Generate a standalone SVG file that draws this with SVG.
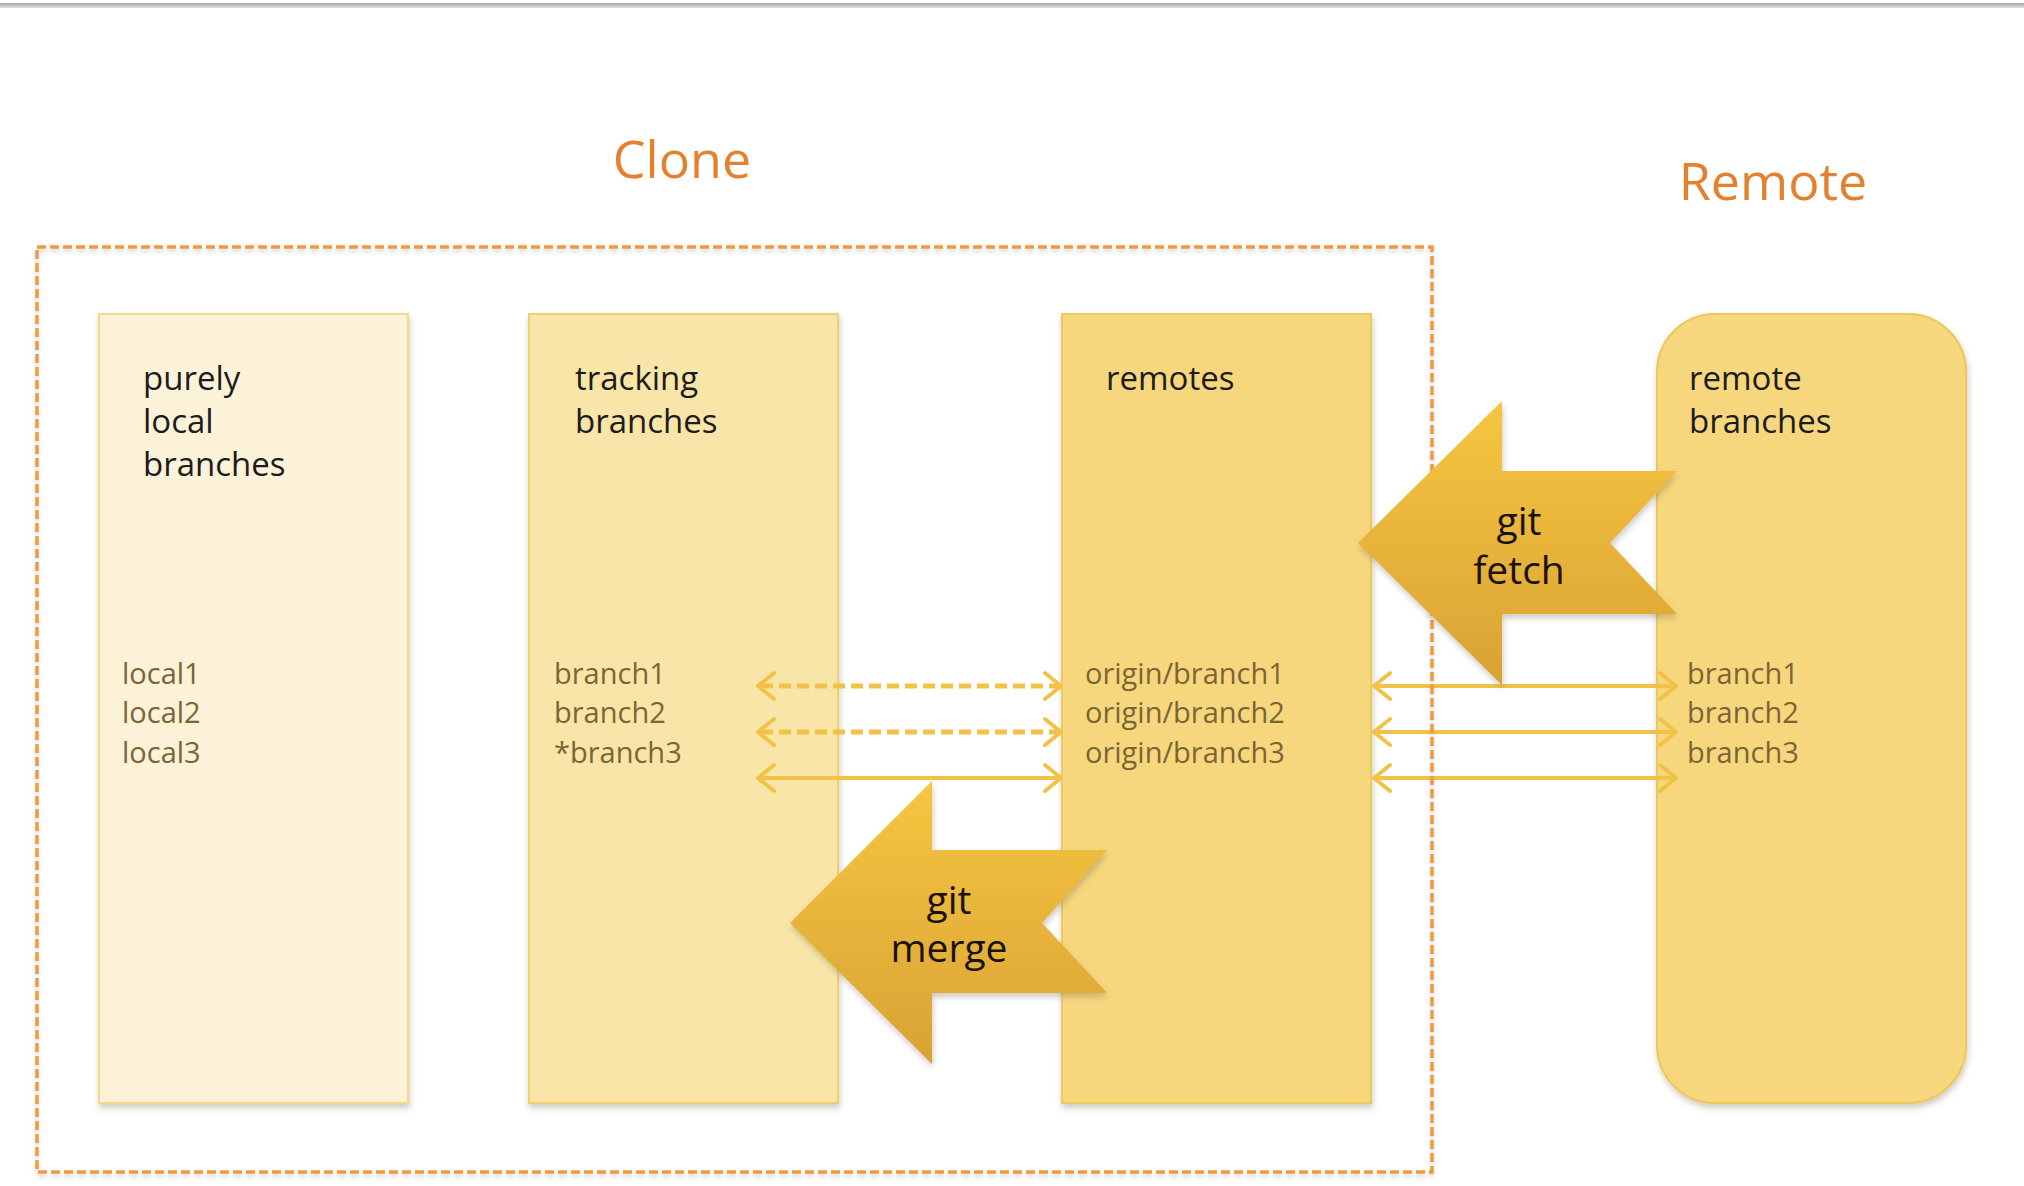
<svg xmlns="http://www.w3.org/2000/svg" width="2024" height="1186" viewBox="0 0 2024 1186">
  <defs>
    <style>
      .title { font-family: "Open Sans", "Liberation Sans", sans-serif; font-size: 52px; fill: #E3812E; }
      .label { font-family: "Open Sans", "Liberation Sans", sans-serif; font-size: 33px; fill: #1C1C1C; }
      .item { font-family: "Open Sans", "Liberation Sans", sans-serif; font-size: 29px; fill: #7A6535; }
      .cmd { font-family: "Open Sans", "Liberation Sans", sans-serif; font-size: 39px; fill: #1A1208; text-anchor: middle; }
      .conn { fill: none; stroke: #F2C247; stroke-width: 4; stroke-linecap: round; stroke-linejoin: round; }
      .dash { stroke-dasharray: 12 6; stroke-linecap: butt; stroke-width: 5; }
      .frame { fill: none; stroke: #EF9A3A; stroke-width: 3.5; stroke-dasharray: 9 4; }
    </style>
    <filter id="shadow" x="-10%" y="-10%" width="120%" height="120%">
      <feDropShadow dx="1" dy="4" stdDeviation="3" flood-color="#7a6a50" flood-opacity="0.35"/>
    </filter>
    <filter id="shadowSoft" x="-5%" y="-5%" width="110%" height="110%">
      <feDropShadow dx="0" dy="3" stdDeviation="2" flood-color="#999999" flood-opacity="0.4"/>
    </filter>
    <linearGradient id="gold" x1="0" y1="0" x2="0" y2="1">
      <stop offset="0" stop-color="#F6C640"/>
      <stop offset="1" stop-color="#D9A235"/>
    </linearGradient>
    <linearGradient id="topline" x1="0" y1="0" x2="0" y2="1">
      <stop offset="0" stop-color="#A8A8A8"/>
      <stop offset="1" stop-color="#E0E0E0"/>
    </linearGradient>
  </defs>

  <rect x="0" y="0" width="2024" height="1186" fill="#FFFFFF"/>
  <rect x="0" y="3" width="2024" height="5" fill="url(#topline)"/>

  <text class="title" x="682" y="178" text-anchor="middle">Clone</text>
  <text class="title" x="1773" y="200" text-anchor="middle">Remote</text>

  <g id="local-branches" filter="url(#shadow)">
    <rect x="99" y="314" width="309" height="789" fill="#FCF2D7" stroke="#F5D88C" stroke-width="2"/>
  </g>
  <g id="local-branches-text">
    <text class="label" x="143" y="390">purely</text>
    <text class="label" x="143" y="433">local</text>
    <text class="label" x="143" y="476">branches</text>
    <text class="item" x="122" y="684">local1</text>
    <text class="item" x="122" y="723">local2</text>
    <text class="item" x="122" y="763">local3</text>
  </g>

  <g id="tracking-branches" filter="url(#shadow)">
    <rect x="529" y="314" width="309" height="789" fill="#FAE5A8" stroke="#F2CF6E" stroke-width="2"/>
  </g>
  <g id="tracking-branches-text">
    <text class="label" x="575" y="390">tracking</text>
    <text class="label" x="575" y="433">branches</text>
    <text class="item" x="554" y="684">branch1</text>
    <text class="item" x="554" y="723">branch2</text>
    <text class="item" x="554" y="763">*branch3</text>
  </g>

  <g id="remotes" filter="url(#shadow)">
    <rect x="1062" y="314" width="309" height="789" fill="#F7D77D" stroke="#F0CA5E" stroke-width="2"/>
  </g>
  <g id="remotes-text">
    <text class="label" x="1106" y="390">remotes</text>
    <text class="item" x="1085" y="684">origin/branch1</text>
    <text class="item" x="1085" y="723">origin/branch2</text>
    <text class="item" x="1085" y="763">origin/branch3</text>
  </g>

  <g id="remote-branches" filter="url(#shadow)">
    <rect x="1657" y="314" width="309" height="789" rx="58" ry="58" fill="#F7D77D" stroke="#EEC65A" stroke-width="2"/>
  </g>
  <g id="remote-branches-text">
    <text class="label" x="1689" y="390">remote</text>
    <text class="label" x="1689" y="433">branches</text>
    <text class="item" x="1687" y="684">branch1</text>
    <text class="item" x="1687" y="723">branch2</text>
    <text class="item" x="1687" y="763">branch3</text>
  </g>

  <g id="connectors">
    <path class="conn dash" d="M761,686 H1058"/>
    <path class="conn" d="M774,673 L758,686 L774,699 M1045,673 L1061,686 L1045,699"/>
    <path class="conn dash" d="M761,732 H1058"/>
    <path class="conn" d="M774,719 L758,732 L774,745 M1045,719 L1061,732 L1045,745"/>
    <path class="conn" d="M759,778 H1060 M774,765 L758,778 L774,791 M1045,765 L1061,778 L1045,791"/>

    <path class="conn" d="M1375,686 H1674 M1390,673 L1374,686 L1390,699 M1660,673 L1676,686 L1660,699"/>
    <path class="conn" d="M1375,732 H1674 M1390,719 L1374,732 L1390,745 M1660,719 L1676,732 L1660,745"/>
    <path class="conn" d="M1375,778 H1674 M1390,765 L1374,778 L1390,791 M1660,765 L1676,778 L1660,791"/>
  </g>

  <g id="clone-frame" filter="url(#shadowSoft)">
    <rect class="frame" x="37" y="247" width="1395" height="925"/>
  </g>

  <g id="git-fetch">
    <polygon points="1358,543 1502,401 1502,471 1677,471 1610,543 1677,614 1502,614 1502,685" fill="url(#gold)" filter="url(#shadow)"/>
    <text class="cmd" x="1519" y="535">git</text>
    <text class="cmd" x="1519" y="584">fetch</text>
  </g>

  <g id="git-merge">
    <polygon points="790,923 932,781 932,850 1107,850 1042,923 1107,993 932,993 932,1064" fill="url(#gold)" filter="url(#shadow)"/>
    <text class="cmd" x="949" y="914">git</text>
    <text class="cmd" x="949" y="962">merge</text>
  </g>
</svg>
